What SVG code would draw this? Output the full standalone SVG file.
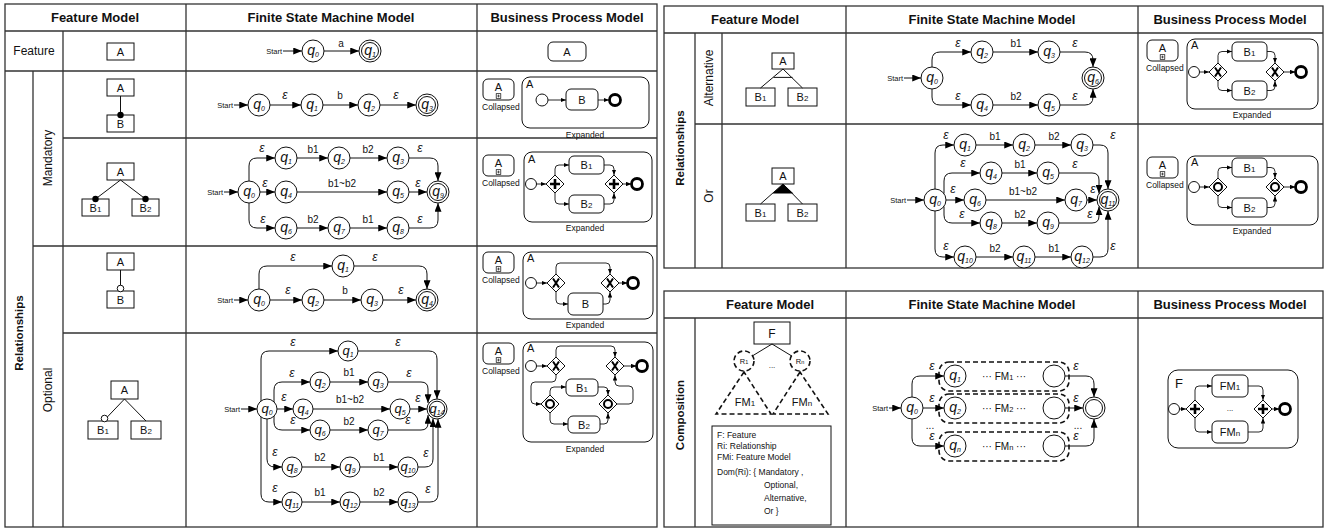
<svg xmlns="http://www.w3.org/2000/svg" width="1328" height="528" viewBox="0 0 1328 528">
<style>
text{font-family:"Liberation Sans",Arial,sans-serif;fill:#111}
.hd{font-size:13px;font-weight:bold;text-anchor:middle}
.rl{font-size:12px;text-anchor:middle}
.rb{font-size:11.5px;font-weight:bold;text-anchor:middle}
.tb{fill:none;stroke:#333;stroke-width:1.3}
.bx{fill:#fff;stroke:#111;stroke-width:1}
.bt{font-size:11px;text-anchor:middle}
.s{fill:#fff;stroke:#111;stroke-width:1}
.q{font-size:14px;font-style:italic;text-anchor:middle}
.q2{font-size:13px;font-style:italic;text-anchor:middle}
.sb{font-size:7px}
.e{font-size:12px;font-style:italic;text-anchor:middle}
.el{font-size:10px;text-anchor:middle}
.stt{font-size:7.5px;text-anchor:end}
.ed{fill:none;stroke:#111;stroke-width:1;marker-end:url(#ah)}
.bf{fill:none;stroke:#111;stroke-width:0.9;marker-end:url(#ahs)}
.ln{fill:none;stroke:#111;stroke-width:1}
.tk{fill:#fff;stroke:#111;stroke-width:1}
.cp{font-size:8.5px}
.ex{font-size:8.5px;text-anchor:middle}
.al{font-size:11px}
.se{fill:#fff;stroke:#111;stroke-width:1}
.ee{fill:#fff;stroke:#000;stroke-width:2.8}
.ds{fill:#fff;stroke:#111;stroke-width:1.6;stroke-dasharray:5 3}
.dt{fill:none;stroke:#111;stroke-width:1.6;stroke-dasharray:5 3}
.lg{font-size:8.5px}
</style>
<defs>
<marker id="ah" viewBox="0 0 10 8" refX="10" refY="4" markerWidth="9" markerHeight="7" markerUnits="userSpaceOnUse" orient="auto"><path d="M0,0L10,4L0,8z" fill="#000"/></marker>
<marker id="ahs" viewBox="0 0 10 8" refX="10" refY="4" markerWidth="5.5" markerHeight="4.4" markerUnits="userSpaceOnUse" orient="auto"><path d="M0,0L10,4L0,8z" fill="#000"/></marker>
<g id="gwP"><polygon points="0,-9 9,0 0,9 -9,0" fill="#fff" stroke="#111" stroke-width="1"/><path d="M-5,0H5M0,-5V5" stroke="#000" stroke-width="2.6"/></g>
<g id="gwX"><polygon points="0,-9 9,0 0,9 -9,0" fill="#fff" stroke="#111" stroke-width="1"/><path d="M-3,-4.5L3,4.5M3,-4.5L-3,4.5" stroke="#000" stroke-width="2"/></g>
<g id="gwO"><polygon points="0,-9 9,0 0,9 -9,0" fill="#fff" stroke="#111" stroke-width="1"/><circle r="4" fill="none" stroke="#000" stroke-width="2"/></g>
<g id="cm"><rect x="-2.3" y="-2.3" width="4.6" height="4.6" fill="#fff" stroke="#000" stroke-width="0.7"/><path d="M-1.4,0H1.4M0,-1.4V1.4" stroke="#000" stroke-width="0.6"/></g>
</defs>
<rect width="1328" height="528" fill="#fff"/>

<!-- ===== left table: feature / mandatory / optional ===== -->
<g id="grid-left">
<rect class="tb" x="5" y="4" width="652" height="523"/>
<path class="tb" d="M5,31H657M5,71H657M63,138H657M33,246H657M63,333H657M186,4V527M477,4V527M63,31V527M33,71V527"/>
<text class="hd" x="95" y="22">Feature Model</text>
<text class="hd" x="331" y="22">Finite State Machine Model</text>
<text class="hd" x="567" y="22">Business Process Model</text>
<text class="rl" x="34" y="55">Feature</text>
<text class="rb" transform="translate(23,333) rotate(-90)">Relationships</text>
<text class="rl" transform="translate(52,158) rotate(-90)">Mandatory</text>
<text class="rl" transform="translate(52,390) rotate(-90)">Optional</text>
</g>

<!-- feature row -->
<g id="fm-f-A"><rect class="bx" x="107" y="43" width="27" height="17"/><text class="bt" x="120.5" y="55.5">A</text></g>
<g id="f0-start"><text class="stt" x="282" y="54">Start</text></g>
<g id="f0-q0"><circle class="s" cx="313" cy="51" r="11"/><text class="q" x="313" y="55">q<tspan class="sb" dy="2">0</tspan></text></g>
<g id="f0-q1"><circle class="s" cx="370" cy="51" r="11"/><circle class="s" cx="370" cy="51" r="8.5"/><text class="q" x="370" y="55">q<tspan class="sb" dy="2">1</tspan></text></g>
<g id="bpm-f-A"><rect class="tk" x="548" y="42" width="38" height="19" rx="5"/><text class="bt" x="567" y="55.5">A</text></g>

<!-- mandatory, single child -->
<g id="fm-m1-A"><rect class="bx" x="107" y="79" width="27" height="17"/><text class="bt" x="120.5" y="91.5">A</text></g>
<g id="fm-m1-B"><rect class="bx" x="107" y="115" width="27" height="17"/><text class="bt" x="120.5" y="127.5">B</text></g>
<g id="m1-start"><text class="stt" x="233" y="108">Start</text></g>
<g id="m1-q0"><circle class="s" cx="259" cy="105" r="11"/><text class="q" x="259" y="109">q<tspan class="sb" dy="2">0</tspan></text></g>
<g id="m1-q1"><circle class="s" cx="312" cy="105" r="11"/><text class="q" x="312" y="109">q<tspan class="sb" dy="2">1</tspan></text></g>
<g id="m1-q2"><circle class="s" cx="369" cy="105" r="11"/><text class="q" x="369" y="109">q<tspan class="sb" dy="2">2</tspan></text></g>
<g id="m1-q3"><circle class="s" cx="427" cy="105" r="11"/><circle class="s" cx="427" cy="105" r="8.5"/><text class="q" x="427" y="109">q<tspan class="sb" dy="2">3</tspan></text></g>
<g id="bpm-m1-collapsed"><rect class="tk" x="483" y="79" width="31" height="21" rx="5"/><text class="bt" x="498.5" y="91">A</text><use href="#cm" x="498.5" y="96"/><text class="cp" x="482" y="110">Collapsed</text></g>
<g id="bpm-m1-expanded"><rect class="tk" x="522" y="77" width="127" height="51" rx="8"/><text class="al" x="526" y="88">A</text><text class="ex" x="585" y="138">Expanded</text></g>
<g id="bpm-m1-start"><circle class="se" cx="542" cy="100" r="6"/></g>
<g id="bpm-m1-B"><rect class="tk" x="566" y="89" width="32" height="21" rx="5"/><text class="bt" x="582" y="103.5">B</text></g>
<g id="bpm-m1-end"><circle class="ee" cx="615" cy="100" r="5.5"/></g>

<!-- mandatory, two children -->
<g id="fm-m2-A"><rect class="bx" x="107" y="163" width="27" height="17"/><text class="bt" x="120.5" y="175.5">A</text></g>
<g id="fm-m2-B1"><rect class="bx" x="82" y="199" width="27" height="17"/><text class="bt" x="95.5" y="211.5">B<tspan font-size="8">1</tspan></text></g>
<g id="fm-m2-B2"><rect class="bx" x="132" y="199" width="27" height="17"/><text class="bt" x="145.5" y="211.5">B<tspan font-size="8">2</tspan></text></g>
<g id="m2-start"><text class="stt" x="223" y="195">Start</text></g>
<g id="m2-q0"><circle class="s" cx="249" cy="192" r="11"/><text class="q" x="249" y="196">q<tspan class="sb" dy="2">0</tspan></text></g>
<g id="m2-q1"><circle class="s" cx="286" cy="158" r="11"/><text class="q" x="286" y="162">q<tspan class="sb" dy="2">1</tspan></text></g>
<g id="m2-q2"><circle class="s" cx="339" cy="158" r="11"/><text class="q" x="339" y="162">q<tspan class="sb" dy="2">2</tspan></text></g>
<g id="m2-q3"><circle class="s" cx="398" cy="158" r="11"/><text class="q" x="398" y="162">q<tspan class="sb" dy="2">3</tspan></text></g>
<g id="m2-q4"><circle class="s" cx="286" cy="192" r="11"/><text class="q" x="286" y="196">q<tspan class="sb" dy="2">4</tspan></text></g>
<g id="m2-q5"><circle class="s" cx="398" cy="192" r="11"/><text class="q" x="398" y="196">q<tspan class="sb" dy="2">5</tspan></text></g>
<g id="m2-q9"><circle class="s" cx="438" cy="192" r="11"/><circle class="s" cx="438" cy="192" r="8.5"/><text class="q" x="438" y="196">q<tspan class="sb" dy="2">9</tspan></text></g>
<g id="m2-q6"><circle class="s" cx="286" cy="228" r="11"/><text class="q" x="286" y="232">q<tspan class="sb" dy="2">6</tspan></text></g>
<g id="m2-q7"><circle class="s" cx="339" cy="228" r="11"/><text class="q" x="339" y="232">q<tspan class="sb" dy="2">7</tspan></text></g>
<g id="m2-q8"><circle class="s" cx="398" cy="228" r="11"/><text class="q" x="398" y="232">q<tspan class="sb" dy="2">8</tspan></text></g>
<g id="bpm-m2-collapsed"><rect class="tk" x="483" y="155" width="31" height="21" rx="5"/><text class="bt" x="498.5" y="167">A</text><use href="#cm" x="498.5" y="172"/><text class="cp" x="482" y="186">Collapsed</text></g>
<g id="bpm-m2-expanded"><rect class="tk" x="524" y="152" width="128" height="70" rx="8"/><text class="al" x="528" y="163">A</text><text class="ex" x="585" y="231">Expanded</text></g>
<g id="bpm-m2-start"><circle class="se" cx="531" cy="184" r="5.5"/></g>
<g id="bpm-m2-split"><use href="#gwP" x="555" y="184"/></g>
<g id="bpm-m2-B1"><rect class="tk" x="569" y="156" width="35" height="18" rx="5"/><text class="bt" x="586.5" y="169">B<tspan font-size="8">1</tspan></text></g>
<g id="bpm-m2-B2"><rect class="tk" x="569" y="195" width="35" height="18" rx="5"/><text class="bt" x="586.5" y="208">B<tspan font-size="8">2</tspan></text></g>
<g id="bpm-m2-join"><use href="#gwP" x="614" y="184"/></g>
<g id="bpm-m2-end"><circle class="ee" cx="637" cy="184" r="5.5"/></g>

<!-- optional, single child -->
<g id="fm-o1-A"><rect class="bx" x="107" y="253" width="27" height="17"/><text class="bt" x="120.5" y="265.5">A</text></g>
<g id="fm-o1-B"><rect class="bx" x="107" y="291" width="27" height="17"/><text class="bt" x="120.5" y="303.5">B</text></g>
<g id="o1-start"><text class="stt" x="233" y="303">Start</text></g>
<g id="o1-q0"><circle class="s" cx="259" cy="300" r="11"/><text class="q" x="259" y="304">q<tspan class="sb" dy="2">0</tspan></text></g>
<g id="o1-q1"><circle class="s" cx="343" cy="266" r="11"/><text class="q" x="343" y="270">q<tspan class="sb" dy="2">1</tspan></text></g>
<g id="o1-q2"><circle class="s" cx="313" cy="300" r="11"/><text class="q" x="313" y="304">q<tspan class="sb" dy="2">2</tspan></text></g>
<g id="o1-q3"><circle class="s" cx="372" cy="300" r="11"/><text class="q" x="372" y="304">q<tspan class="sb" dy="2">3</tspan></text></g>
<g id="o1-q4"><circle class="s" cx="427" cy="300" r="11"/><circle class="s" cx="427" cy="300" r="8.5"/><text class="q" x="427" y="304">q<tspan class="sb" dy="2">4</tspan></text></g>
<g id="bpm-o1-collapsed"><rect class="tk" x="483" y="252" width="31" height="21" rx="5"/><text class="bt" x="498.5" y="264">A</text><use href="#cm" x="498.5" y="269"/><text class="cp" x="482" y="283">Collapsed</text></g>
<g id="bpm-o1-expanded"><rect class="tk" x="523" y="252" width="130" height="67" rx="8"/><text class="al" x="527" y="262">A</text><text class="ex" x="585" y="328">Expanded</text></g>
<g id="bpm-o1-start"><circle class="se" cx="531" cy="283" r="5.5"/></g>
<g id="bpm-o1-split"><use href="#gwX" x="556" y="283"/></g>
<g id="bpm-o1-B"><rect class="tk" x="568" y="293" width="35" height="22" rx="5"/><text class="bt" x="585.5" y="308">B</text></g>
<g id="bpm-o1-join"><use href="#gwX" x="610" y="283"/></g>
<g id="bpm-o1-end"><circle class="ee" cx="633" cy="283" r="5.5"/></g>

<!-- optional, two children -->
<g id="fm-o2-A"><rect class="bx" x="111" y="381" width="27" height="18"/><text class="bt" x="124.5" y="394">A</text></g>
<g id="fm-o2-B1"><rect class="bx" x="88" y="421" width="30" height="18"/><text class="bt" x="103" y="434">B<tspan font-size="8">1</tspan></text></g>
<g id="fm-o2-B2"><rect class="bx" x="131" y="421" width="30" height="18"/><text class="bt" x="146" y="434">B<tspan font-size="8">2</tspan></text></g>
<g id="o2-start"><text class="stt" x="240" y="412">Start</text></g>
<g id="o2-q0"><circle class="s" cx="267" cy="409" r="10"/><text class="q2" x="267" y="413">q<tspan class="sb" dy="2">0</tspan></text></g>
<g id="o2-q1"><circle class="s" cx="348" cy="351" r="10"/><text class="q2" x="348" y="355">q<tspan class="sb" dy="2">1</tspan></text></g>
<g id="o2-q2"><circle class="s" cx="320" cy="382" r="10"/><text class="q2" x="320" y="386">q<tspan class="sb" dy="2">2</tspan></text></g>
<g id="o2-q3"><circle class="s" cx="378" cy="382" r="10"/><text class="q2" x="378" y="386">q<tspan class="sb" dy="2">3</tspan></text></g>
<g id="o2-q4"><circle class="s" cx="303" cy="409" r="10"/><text class="q2" x="303" y="413">q<tspan class="sb" dy="2">4</tspan></text></g>
<g id="o2-q5"><circle class="s" cx="400" cy="409" r="10"/><text class="q2" x="400" y="413">q<tspan class="sb" dy="2">5</tspan></text></g>
<g id="o2-q14"><circle class="s" cx="437" cy="409" r="10"/><circle class="s" cx="437" cy="409" r="7.8"/><text class="q2" x="437" y="413">q<tspan class="sb" dy="2">14</tspan></text></g>
<g id="o2-q6"><circle class="s" cx="320" cy="430" r="10"/><text class="q2" x="320" y="434">q<tspan class="sb" dy="2">6</tspan></text></g>
<g id="o2-q7"><circle class="s" cx="378" cy="430" r="10"/><text class="q2" x="378" y="434">q<tspan class="sb" dy="2">7</tspan></text></g>
<g id="o2-q8"><circle class="s" cx="292" cy="467" r="10"/><text class="q2" x="292" y="471">q<tspan class="sb" dy="2">8</tspan></text></g>
<g id="o2-q9"><circle class="s" cx="350" cy="467" r="10"/><text class="q2" x="350" y="471">q<tspan class="sb" dy="2">9</tspan></text></g>
<g id="o2-q10"><circle class="s" cx="408" cy="467" r="10"/><text class="q2" x="408" y="471">q<tspan class="sb" dy="2">10</tspan></text></g>
<g id="o2-q11"><circle class="s" cx="292" cy="502" r="10"/><text class="q2" x="292" y="506">q<tspan class="sb" dy="2">11</tspan></text></g>
<g id="o2-q12"><circle class="s" cx="350" cy="502" r="10"/><text class="q2" x="350" y="506">q<tspan class="sb" dy="2">12</tspan></text></g>
<g id="o2-q13"><circle class="s" cx="408" cy="502" r="10"/><text class="q2" x="408" y="506">q<tspan class="sb" dy="2">13</tspan></text></g>
<g id="bpm-o2-collapsed"><rect class="tk" x="483" y="343" width="31" height="21" rx="5"/><text class="bt" x="498.5" y="355">A</text><use href="#cm" x="498.5" y="360"/><text class="cp" x="482" y="374">Collapsed</text></g>
<g id="bpm-o2-expanded"><rect class="tk" x="523" y="342" width="130" height="100" rx="8"/><text class="al" x="527" y="352">A</text><text class="ex" x="585" y="452">Expanded</text></g>
<g id="bpm-o2-start"><circle class="se" cx="531" cy="366" r="5.5"/></g>
<g id="bpm-o2-xsplit"><use href="#gwX" x="556" y="366"/></g>
<g id="bpm-o2-xjoin"><use href="#gwX" x="615" y="366"/></g>
<g id="bpm-o2-osplit"><use href="#gwO" x="550" y="404"/></g>
<g id="bpm-o2-ojoin"><use href="#gwO" x="608" y="404"/></g>
<g id="bpm-o2-B1"><rect class="tk" x="566" y="379" width="32" height="17" rx="5"/><text class="bt" x="582" y="391.5">B<tspan font-size="8">1</tspan></text></g>
<g id="bpm-o2-B2"><rect class="tk" x="568" y="416" width="32" height="17" rx="5"/><text class="bt" x="584" y="428.5">B<tspan font-size="8">2</tspan></text></g>
<g id="bpm-o2-end"><circle class="ee" cx="642" cy="366" r="5.5"/></g>

<!-- ===== right upper table: alternative / or ===== -->
<g id="grid-right-top">
<rect class="tb" x="664" y="6" width="659" height="262"/>
<path class="tb" d="M664,33H1323M695,124H1323M846,6V268M1138,6V268M695,33V268M722,33V268"/>
<text class="hd" x="755" y="24">Feature Model</text>
<text class="hd" x="992" y="24">Finite State Machine Model</text>
<text class="hd" x="1230" y="24">Business Process Model</text>
<text class="rb" transform="translate(684,148) rotate(-90)">Relationships</text>
<text class="rl" transform="translate(713,78) rotate(-90)">Alternative</text>
<text class="rl" transform="translate(713,196) rotate(-90)">Or</text>
</g>

<!-- alternative -->
<g id="fm-al-A"><rect class="bx" x="772" y="53" width="22" height="16"/><text class="bt" x="783" y="65">A</text></g>
<g id="fm-al-B1"><rect class="bx" x="746" y="88" width="29" height="18"/><text class="bt" x="760.5" y="101">B<tspan font-size="8">1</tspan></text></g>
<g id="fm-al-B2"><rect class="bx" x="788" y="88" width="29" height="18"/><text class="bt" x="802.5" y="101">B<tspan font-size="8">2</tspan></text></g>
<g id="al-start"><text class="stt" x="903" y="81">Start</text></g>
<g id="al-q0"><circle class="s" cx="932" cy="78" r="11"/><text class="q" x="932" y="82">q<tspan class="sb" dy="2">0</tspan></text></g>
<g id="al-q2"><circle class="s" cx="982" cy="52" r="11"/><text class="q" x="982" y="56">q<tspan class="sb" dy="2">2</tspan></text></g>
<g id="al-q3"><circle class="s" cx="1049" cy="52" r="11"/><text class="q" x="1049" y="56">q<tspan class="sb" dy="2">3</tspan></text></g>
<g id="al-q4"><circle class="s" cx="982" cy="105" r="11"/><text class="q" x="982" y="109">q<tspan class="sb" dy="2">4</tspan></text></g>
<g id="al-q5"><circle class="s" cx="1049" cy="105" r="11"/><text class="q" x="1049" y="109">q<tspan class="sb" dy="2">5</tspan></text></g>
<g id="al-q6"><circle class="s" cx="1093" cy="78" r="11"/><circle class="s" cx="1093" cy="78" r="8.5"/><text class="q" x="1093" y="82">q<tspan class="sb" dy="2">6</tspan></text></g>
<g id="bpm-al-collapsed"><rect class="tk" x="1147" y="40" width="31" height="21" rx="5"/><text class="bt" x="1162.5" y="52">A</text><use href="#cm" x="1162.5" y="57"/><text class="cp" x="1146" y="71">Collapsed</text></g>
<g id="bpm-al-expanded"><rect class="tk" x="1187" y="39" width="131" height="70" rx="8"/><text class="al" x="1191" y="49">A</text><text class="ex" x="1252" y="118">Expanded</text></g>
<g id="bpm-al-start"><circle class="se" cx="1194" cy="72" r="5.5"/></g>
<g id="bpm-al-split"><use href="#gwX" x="1218" y="72"/></g>
<g id="bpm-al-B1"><rect class="tk" x="1232" y="42" width="35" height="19" rx="5"/><text class="bt" x="1249.5" y="55.5">B<tspan font-size="8">1</tspan></text></g>
<g id="bpm-al-B2"><rect class="tk" x="1232" y="81" width="35" height="19" rx="5"/><text class="bt" x="1249.5" y="94.5">B<tspan font-size="8">2</tspan></text></g>
<g id="bpm-al-join"><use href="#gwX" x="1275" y="72"/></g>
<g id="bpm-al-end"><circle class="ee" cx="1301" cy="72" r="5.5"/></g>

<!-- or -->
<g id="fm-or-A"><rect class="bx" x="772" y="168" width="22" height="16"/><text class="bt" x="783" y="180">A</text></g>
<g id="fm-or-B1"><rect class="bx" x="746" y="204" width="29" height="17"/><text class="bt" x="760.5" y="216.5">B<tspan font-size="8">1</tspan></text></g>
<g id="fm-or-B2"><rect class="bx" x="788" y="204" width="29" height="17"/><text class="bt" x="802.5" y="216.5">B<tspan font-size="8">2</tspan></text></g>
<g id="or-start"><text class="stt" x="906" y="203">Start</text></g>
<g id="or-q0"><circle class="s" cx="935" cy="200" r="11"/><text class="q" x="935" y="204">q<tspan class="sb" dy="2">0</tspan></text></g>
<g id="or-q1"><circle class="s" cx="965" cy="145" r="11"/><text class="q" x="965" y="149">q<tspan class="sb" dy="2">1</tspan></text></g>
<g id="or-q2"><circle class="s" cx="1024" cy="145" r="11"/><text class="q" x="1024" y="149">q<tspan class="sb" dy="2">2</tspan></text></g>
<g id="or-q3"><circle class="s" cx="1082" cy="145" r="11"/><text class="q" x="1082" y="149">q<tspan class="sb" dy="2">3</tspan></text></g>
<g id="or-q4"><circle class="s" cx="991" cy="173" r="11"/><text class="q" x="991" y="177">q<tspan class="sb" dy="2">4</tspan></text></g>
<g id="or-q5"><circle class="s" cx="1048" cy="173" r="11"/><text class="q" x="1048" y="177">q<tspan class="sb" dy="2">5</tspan></text></g>
<g id="or-q6"><circle class="s" cx="975" cy="200" r="11"/><text class="q" x="975" y="204">q<tspan class="sb" dy="2">6</tspan></text></g>
<g id="or-q7"><circle class="s" cx="1076" cy="200" r="11"/><text class="q" x="1076" y="204">q<tspan class="sb" dy="2">7</tspan></text></g>
<g id="or-q11-final"><circle class="s" cx="1108" cy="200" r="11"/><circle class="s" cx="1108" cy="200" r="8.5"/><text class="q" x="1108" y="204">q<tspan class="sb" dy="2">11</tspan></text></g>
<g id="or-q8"><circle class="s" cx="991" cy="223" r="11"/><text class="q" x="991" y="227">q<tspan class="sb" dy="2">8</tspan></text></g>
<g id="or-q9"><circle class="s" cx="1048" cy="223" r="11"/><text class="q" x="1048" y="227">q<tspan class="sb" dy="2">9</tspan></text></g>
<g id="or-q10"><circle class="s" cx="965" cy="257" r="11"/><text class="q" x="965" y="261">q<tspan class="sb" dy="2">10</tspan></text></g>
<g id="or-q11"><circle class="s" cx="1024" cy="257" r="11"/><text class="q" x="1024" y="261">q<tspan class="sb" dy="2">11</tspan></text></g>
<g id="or-q12"><circle class="s" cx="1082" cy="257" r="11"/><text class="q" x="1082" y="261">q<tspan class="sb" dy="2">12</tspan></text></g>
<g id="bpm-or-collapsed"><rect class="tk" x="1147" y="157" width="31" height="21" rx="5"/><text class="bt" x="1162.5" y="169">A</text><use href="#cm" x="1162.5" y="174"/><text class="cp" x="1146" y="188">Collapsed</text></g>
<g id="bpm-or-expanded"><rect class="tk" x="1187" y="156" width="131" height="69" rx="8"/><text class="al" x="1191" y="166">A</text><text class="ex" x="1252" y="234">Expanded</text></g>
<g id="bpm-or-start"><circle class="se" cx="1194" cy="187" r="5.5"/></g>
<g id="bpm-or-split"><use href="#gwO" x="1218" y="187"/></g>
<g id="bpm-or-B1"><rect class="tk" x="1232" y="158" width="35" height="19" rx="5"/><text class="bt" x="1249.5" y="171.5">B<tspan font-size="8">1</tspan></text></g>
<g id="bpm-or-B2"><rect class="tk" x="1232" y="198" width="35" height="19" rx="5"/><text class="bt" x="1249.5" y="211.5">B<tspan font-size="8">2</tspan></text></g>
<g id="bpm-or-join"><use href="#gwO" x="1275" y="187"/></g>
<g id="bpm-or-end"><circle class="ee" cx="1301" cy="187" r="5.5"/></g>

<!-- ===== right lower table: composition ===== -->
<g id="grid-right-bottom">
<rect class="tb" x="664" y="291" width="659" height="236"/>
<path class="tb" d="M664,318H1323M695,318V527M846,291V527M1138,291V527"/>
<text class="hd" x="770" y="309">Feature Model</text>
<text class="hd" x="992" y="309">Finite State Machine Model</text>
<text class="hd" x="1230" y="309">Business Process Model</text>
<text class="rb" transform="translate(684,415) rotate(-90)">Composition</text>
</g>
<g id="fm-co-F"><rect class="bx" x="754" y="322" width="36" height="22"/><text x="772" y="337.5" font-size="12" text-anchor="middle">F</text></g>
<g id="fm-co-lines"><path class="ln" d="M772,344L744,361M772,344L800,361"/></g>
<g id="fm-co-R1"><circle class="ds" cx="744" cy="361" r="10"/><text x="744" y="364" font-size="7.5" text-anchor="middle">R<tspan font-size="5.5">1</tspan></text></g>
<g id="fm-co-Rn"><circle class="ds" cx="800" cy="361" r="10"/><text x="800" y="364" font-size="7.5" text-anchor="middle">R<tspan font-size="5.5">n</tspan></text></g>
<text x="772" y="368" font-size="8" text-anchor="middle">...</text>
<g id="fm-co-FM1"><path class="dt" d="M744,372L716,414H771Z"/><text x="745" y="406" font-size="11" text-anchor="middle">FM<tspan font-size="8">1</tspan></text></g>
<g id="fm-co-FMn"><path class="dt" d="M800,372L773,414H828Z"/><text x="802" y="406" font-size="11" text-anchor="middle">FM<tspan font-size="8">n</tspan></text></g>
<g id="fm-co-legend"><rect class="bx" x="712" y="426" width="119" height="99"/>
<text class="lg" x="717" y="438">F: Feature</text>
<text class="lg" x="717" y="449">Ri: Relationship</text>
<text class="lg" x="717" y="460">FMi: Feature Model</text>
<text class="lg" x="717" y="475">Dom(Ri): { Mandatory ,</text>
<text class="lg" x="764" y="488">Optional,</text>
<text class="lg" x="764" y="501">Alternative,</text>
<text class="lg" x="764" y="514">Or }</text></g>

<g id="co-start"><text class="stt" x="888" y="411">Start</text></g>
<g id="co-box1"><rect class="dt" x="939" y="362" width="130" height="29" rx="10"/><text class="el" x="1004" y="380">···    FM<tspan font-size="7.5">1</tspan>    ···</text></g>
<g id="co-box2"><rect class="dt" x="939" y="394" width="130" height="29" rx="10"/><text class="el" x="1004" y="412">···    FM<tspan font-size="7.5">2</tspan>    ···</text></g>
<g id="co-boxn"><rect class="dt" x="939" y="432" width="130" height="29" rx="10"/><text class="el" x="1004" y="450">···    FM<tspan font-size="7.5">n</tspan>    ···</text></g>
<g id="co-q0"><circle class="s" cx="912" cy="408" r="11"/><text class="q" x="912" y="412">q<tspan class="sb" dy="2">0</tspan></text></g>
<g id="co-q1"><circle class="s" cx="955" cy="376" r="11"/><text class="q" x="955" y="380">q<tspan class="sb" dy="2">1</tspan></text></g>
<g id="co-q2"><circle class="s" cx="955" cy="408" r="11"/><text class="q" x="955" y="412">q<tspan class="sb" dy="2">2</tspan></text></g>
<g id="co-qn"><circle class="s" cx="955" cy="446" r="11"/><text class="q" x="955" y="450">q<tspan class="sb" dy="2">n</tspan></text></g>
<g id="co-e1"><circle class="s" cx="1054" cy="376" r="11"/></g>
<g id="co-e2"><circle class="s" cx="1054" cy="408" r="11"/></g>
<g id="co-en"><circle class="s" cx="1054" cy="446" r="11"/></g>
<g id="co-final"><circle class="s" cx="1094" cy="408" r="11"/><circle class="s" cx="1094" cy="408" r="8.5"/></g>
<text class="el" x="930" y="429">...</text>
<text class="el" x="1078" y="429">...</text>

<g id="bpm-co-expanded"><rect class="tk" x="1168" y="370" width="130" height="78" rx="10"/><text x="1175" y="388" font-size="13">F</text></g>
<g id="bpm-co-start"><circle class="se" cx="1174" cy="409" r="5.5"/></g>
<g id="bpm-co-split"><use href="#gwP" x="1195" y="409"/></g>
<g id="bpm-co-FM1"><rect class="tk" x="1212" y="375" width="36" height="22" rx="5"/><text class="bt" x="1230" y="390">FM<tspan font-size="8">1</tspan></text></g>
<g id="bpm-co-FMn"><rect class="tk" x="1212" y="421" width="36" height="22" rx="5"/><text class="bt" x="1230" y="436">FM<tspan font-size="8">n</tspan></text></g>
<text x="1230" y="411" font-size="8" text-anchor="middle">...</text>
<g id="bpm-co-join"><use href="#gwP" x="1263" y="409"/></g>
<g id="bpm-co-end"><circle class="ee" cx="1285" cy="409" r="5.5"/></g>

<!-- ===== connectors ===== -->
<g id="connectors">
<!-- feature model links -->
<path class="ln" d="M120.5,96V115"/><circle cx="120.5" cy="115" r="3.2" fill="#000"/>
<path class="ln" d="M120.5,180L95.5,199M120.5,180L145.5,199"/><circle cx="95.5" cy="199" r="3.2" fill="#000"/><circle cx="145.5" cy="199" r="3.2" fill="#000"/>
<path class="ln" d="M120.5,270V288"/><circle cx="120.5" cy="288.5" r="3.3" fill="#fff" stroke="#111"/>
<path class="ln" d="M124.5,399L103.5,421M124.5,399L146,421"/><circle cx="104.5" cy="418.5" r="3.3" fill="#fff" stroke="#111"/>
<path class="ln" d="M783,69L760.5,88M783,69L802.5,88M773.5,77.4H792.5"/>
<path class="ln" d="M783,184L760.5,204M783,184L802.5,204"/><polygon points="783,184 772.5,193.5 793.5,193.5" fill="#000"/>

<!-- feature row FSM -->
<path class="ed" d="M283,51H302"/>
<path class="ed" d="M324,51H359"/><text class="el" x="341" y="47">a</text>
<!-- mandatory 1 FSM -->
<path class="ed" d="M234,105H248"/>
<path class="ed" d="M270,105H301"/><text class="e" x="285" y="99">ε</text>
<path class="ed" d="M323,105H358"/><text class="el" x="340" y="99">b</text>
<path class="ed" d="M380,105H416"/><text class="e" x="396" y="99">ε</text>
<!-- mandatory 2 FSM -->
<path class="ed" d="M224,192H238"/>
<path class="ed" d="M249,181V166Q249,158 257,158H275"/><text class="e" x="262" y="152">ε</text>
<path class="ed" d="M260,192H275"/><text class="e" x="265" y="187">ε</text>
<path class="ed" d="M249,203V220Q249,228 257,228H275"/><text class="e" x="263" y="223">ε</text>
<path class="ed" d="M297,158H328"/><text class="el" x="313" y="153">b1</text>
<path class="ed" d="M350,158H387"/><text class="el" x="368" y="153">b2</text>
<path class="ed" d="M409,158H430Q438,158 438,166V181"/><text class="e" x="420" y="152">ε</text>
<path class="ed" d="M297,192H387"/><text class="el" x="342" y="187">b1~b2</text>
<path class="ed" d="M409,192H427"/><text class="e" x="418" y="187">ε</text>
<path class="ed" d="M297,228H328"/><text class="el" x="313" y="223">b2</text>
<path class="ed" d="M350,228H387"/><text class="el" x="368" y="223">b1</text>
<path class="ed" d="M409,228H430Q438,228 438,220V203"/><text class="e" x="420" y="223">ε</text>
<!-- optional 1 FSM -->
<path class="ed" d="M234,300H248"/>
<path class="ed" d="M259,289V274Q259,266 267,266H332"/><text class="e" x="293" y="261">ε</text>
<path class="ed" d="M354,266H419Q427,266 427,274V289"/><text class="e" x="375" y="261">ε</text>
<path class="ed" d="M270,300H302"/><text class="e" x="288" y="294">ε</text>
<path class="ed" d="M324,300H361"/><text class="el" x="345" y="294">b</text>
<path class="ed" d="M383,300H416"/><text class="e" x="401" y="294">ε</text>
<!-- optional 2 FSM -->
<path class="ed" d="M241,409H257"/>
<path class="ed" d="M261,401V359Q261,351 269,351H338"/><text class="e" x="293" y="346">ε</text>
<path class="ed" d="M274,402V390Q274,382 282,382H310"/><text class="e" x="292" y="377">ε</text>
<path class="ed" d="M277,409H293"/><text class="e" x="284" y="401">ε</text>
<path class="ed" d="M274,416V422Q274,430 282,430H310"/><text class="e" x="293" y="424">ε</text>
<path class="ed" d="M267,419V459Q267,467 275,467H282"/><text class="e" x="275" y="456">ε</text>
<path class="ed" d="M261,417V494Q261,502 269,502H282"/><text class="e" x="275" y="492">ε</text>
<path class="ed" d="M358,351H429Q437,351 437,359V399"/><text class="e" x="398" y="346">ε</text>
<path class="ed" d="M330,382H368"/><text class="el" x="349" y="376">b1</text>
<path class="ed" d="M388,382H421Q428,382 428,389V403"/><text class="e" x="409" y="377">ε</text>
<path class="ed" d="M313,409H390"/><text class="el" x="350" y="403">b1~b2</text>
<path class="ed" d="M410,409H427"/><text class="e" x="418" y="402">ε</text>
<path class="ed" d="M330,430H368"/><text class="el" x="349" y="425">b2</text>
<path class="ed" d="M388,430H421Q428,430 428,423V415"/><text class="e" x="408" y="424">ε</text>
<path class="ed" d="M302,467H340"/><text class="el" x="320" y="461">b2</text>
<path class="ed" d="M360,467H398"/><text class="el" x="379" y="461">b1</text>
<path class="ed" d="M418,467H425Q433,467 433,459V418.5"/><text class="e" x="426" y="457">ε</text>
<path class="ed" d="M302,502H340"/><text class="el" x="320" y="496">b1</text>
<path class="ed" d="M360,502H398"/><text class="el" x="379" y="496">b2</text>
<path class="ed" d="M418,502H430Q438,502 438,494V419"/><text class="e" x="428" y="493">ε</text>
<!-- alternative FSM -->
<path class="ed" d="M904,78H921"/>
<path class="ed" d="M932,67V60Q932,52 940,52H971"/><text class="e" x="958" y="47">ε</text>
<path class="ed" d="M932,89V97Q932,105 940,105H971"/><text class="e" x="958" y="100">ε</text>
<path class="ed" d="M993,52H1038"/><text class="el" x="1016" y="47">b1</text>
<path class="ed" d="M993,105H1038"/><text class="el" x="1016" y="100">b2</text>
<path class="ed" d="M1060,52H1085Q1093,52 1093,60V67"/><text class="e" x="1075" y="47">ε</text>
<path class="ed" d="M1060,105H1085Q1093,105 1093,97V89"/><text class="e" x="1075" y="100">ε</text>
<!-- or FSM -->
<path class="ed" d="M907,200H924"/>
<path class="ed" d="M935,189V153Q935,145 943,145H954"/><text class="e" x="946" y="139">ε</text>
<path class="ed" d="M944,193.5V181Q944,173 952,173H980"/><text class="e" x="963" y="167">ε</text>
<path class="ed" d="M946,200H964"/><text class="e" x="953" y="193">ε</text>
<path class="ed" d="M944,206.5V215Q944,223 952,223H980"/><text class="e" x="962" y="218">ε</text>
<path class="ed" d="M935,211V249Q935,257 943,257H954"/><text class="e" x="946" y="250">ε</text>
<path class="ed" d="M976,145H1013"/><text class="el" x="995" y="140">b1</text>
<path class="ed" d="M1035,145H1071"/><text class="el" x="1054" y="140">b2</text>
<path class="ed" d="M1093,145H1100Q1108,145 1108,153V189"/><text class="e" x="1113" y="139">ε</text>
<path class="ed" d="M1002,173H1037"/><text class="el" x="1020" y="168">b1</text>
<path class="ed" d="M1059,173H1092Q1099,173 1099,180V193.5"/><text class="e" x="1075" y="168">ε</text>
<path class="ed" d="M986,200H1065"/><text class="el" x="1023" y="195">b1~b2</text>
<path class="ed" d="M1087,200H1097"/><text class="e" x="1093" y="193">ε</text>
<path class="ed" d="M1002,223H1037"/><text class="el" x="1020" y="218">b2</text>
<path class="ed" d="M1059,223H1092Q1099,223 1099,216V206.5"/><text class="e" x="1090" y="218">ε</text>
<path class="ed" d="M976,257H1013"/><text class="el" x="995" y="252">b2</text>
<path class="ed" d="M1035,257H1071"/><text class="el" x="1054" y="252">b1</text>
<path class="ed" d="M1093,257H1100Q1108,257 1108,249V211"/><text class="e" x="1113" y="250">ε</text>
<!-- composition FSM -->
<path class="ed" d="M889,408H901"/>
<path class="ed" d="M912,397V384Q912,376 920,376H944"/><text class="e" x="932" y="370">ε</text>
<path class="ed" d="M923,408H944"/><text class="e" x="932" y="402">ε</text>
<path class="ed" d="M912,419V438Q912,446 920,446H944"/><text class="e" x="932" y="440">ε</text>
<path class="ed" d="M1065,376H1086Q1094,376 1094,384V397"/><text class="e" x="1076" y="370">ε</text>
<path class="ed" d="M1065,408H1083"/><text class="e" x="1076" y="402">ε</text>
<path class="ed" d="M1065,446H1086Q1094,446 1094,438V419"/><text class="e" x="1076" y="440">ε</text>

<!-- BPM flows -->
<path class="bf" d="M548,100H566"/>
<path class="bf" d="M598,100H609"/>
<path class="bf" d="M536.5,184H546"/>
<path class="bf" d="M555,175V169Q555,165 559,165H569"/>
<path class="bf" d="M555,193V200Q555,204 559,204H569"/>
<path class="bf" d="M604,165H610Q614,165 614,169V175"/>
<path class="bf" d="M604,204H610Q614,204 614,200V193"/>
<path class="bf" d="M623,184H631.5"/>
<path class="bf" d="M536.5,283H547"/>
<path class="bf" d="M556,274V267Q556,263 560,263H606Q610,263 610,267V274"/>
<path class="bf" d="M556,292V300Q556,304 560,304H568"/>
<path class="bf" d="M603,304H606Q610,304 610,300V292"/>
<path class="bf" d="M619,283H627.5"/>
<path class="bf" d="M536.5,366H547"/>
<path class="bf" d="M556,357V350Q556,346 560,346H611Q615,346 615,350V357"/>
<path class="bf" d="M556,375V378Q556,382 552,382H535Q531,382 531,386V400Q531,404 535,404H541"/>
<path class="bf" d="M550,395V391Q550,387 554,387H566"/>
<path class="bf" d="M550,413V420Q550,424 554,424H568"/>
<path class="bf" d="M598,387H604Q608,387 608,391V395"/>
<path class="bf" d="M600,424H604Q608,424 608,420V413"/>
<path class="bf" d="M617,404H629Q633,404 633,400V390Q633,386 629,386H619Q615,386 615,382V375"/>
<path class="bf" d="M624,366H636.5"/>
<path class="bf" d="M1199.5,72H1209"/>
<path class="bf" d="M1218,63V55.5Q1218,51.5 1222,51.5H1232"/>
<path class="bf" d="M1218,81V86.5Q1218,90.5 1222,90.5H1232"/>
<path class="bf" d="M1267,51.5H1271Q1275,51.5 1275,55.5V63"/>
<path class="bf" d="M1267,90.5H1271Q1275,90.5 1275,86.5V81"/>
<path class="bf" d="M1284,72H1295.5"/>
<path class="bf" d="M1199.5,187H1209"/>
<path class="bf" d="M1218,178V171.5Q1218,167.5 1222,167.5H1232"/>
<path class="bf" d="M1218,196V203.5Q1218,207.5 1222,207.5H1232"/>
<path class="bf" d="M1267,167.5H1271Q1275,167.5 1275,171.5V178"/>
<path class="bf" d="M1267,207.5H1271Q1275,207.5 1275,203.5V196"/>
<path class="bf" d="M1284,187H1295.5"/>
<path class="bf" d="M1179.5,409H1186"/>
<path class="bf" d="M1195,400V390Q1195,386 1199,386H1212"/>
<path class="bf" d="M1195,418V428Q1195,432 1199,432H1212"/>
<path class="bf" d="M1248,386H1259Q1263,386 1263,390V400"/>
<path class="bf" d="M1248,432H1259Q1263,432 1263,428V418"/>
<path class="bf" d="M1272,409H1279.5"/>
</g>
</svg>
